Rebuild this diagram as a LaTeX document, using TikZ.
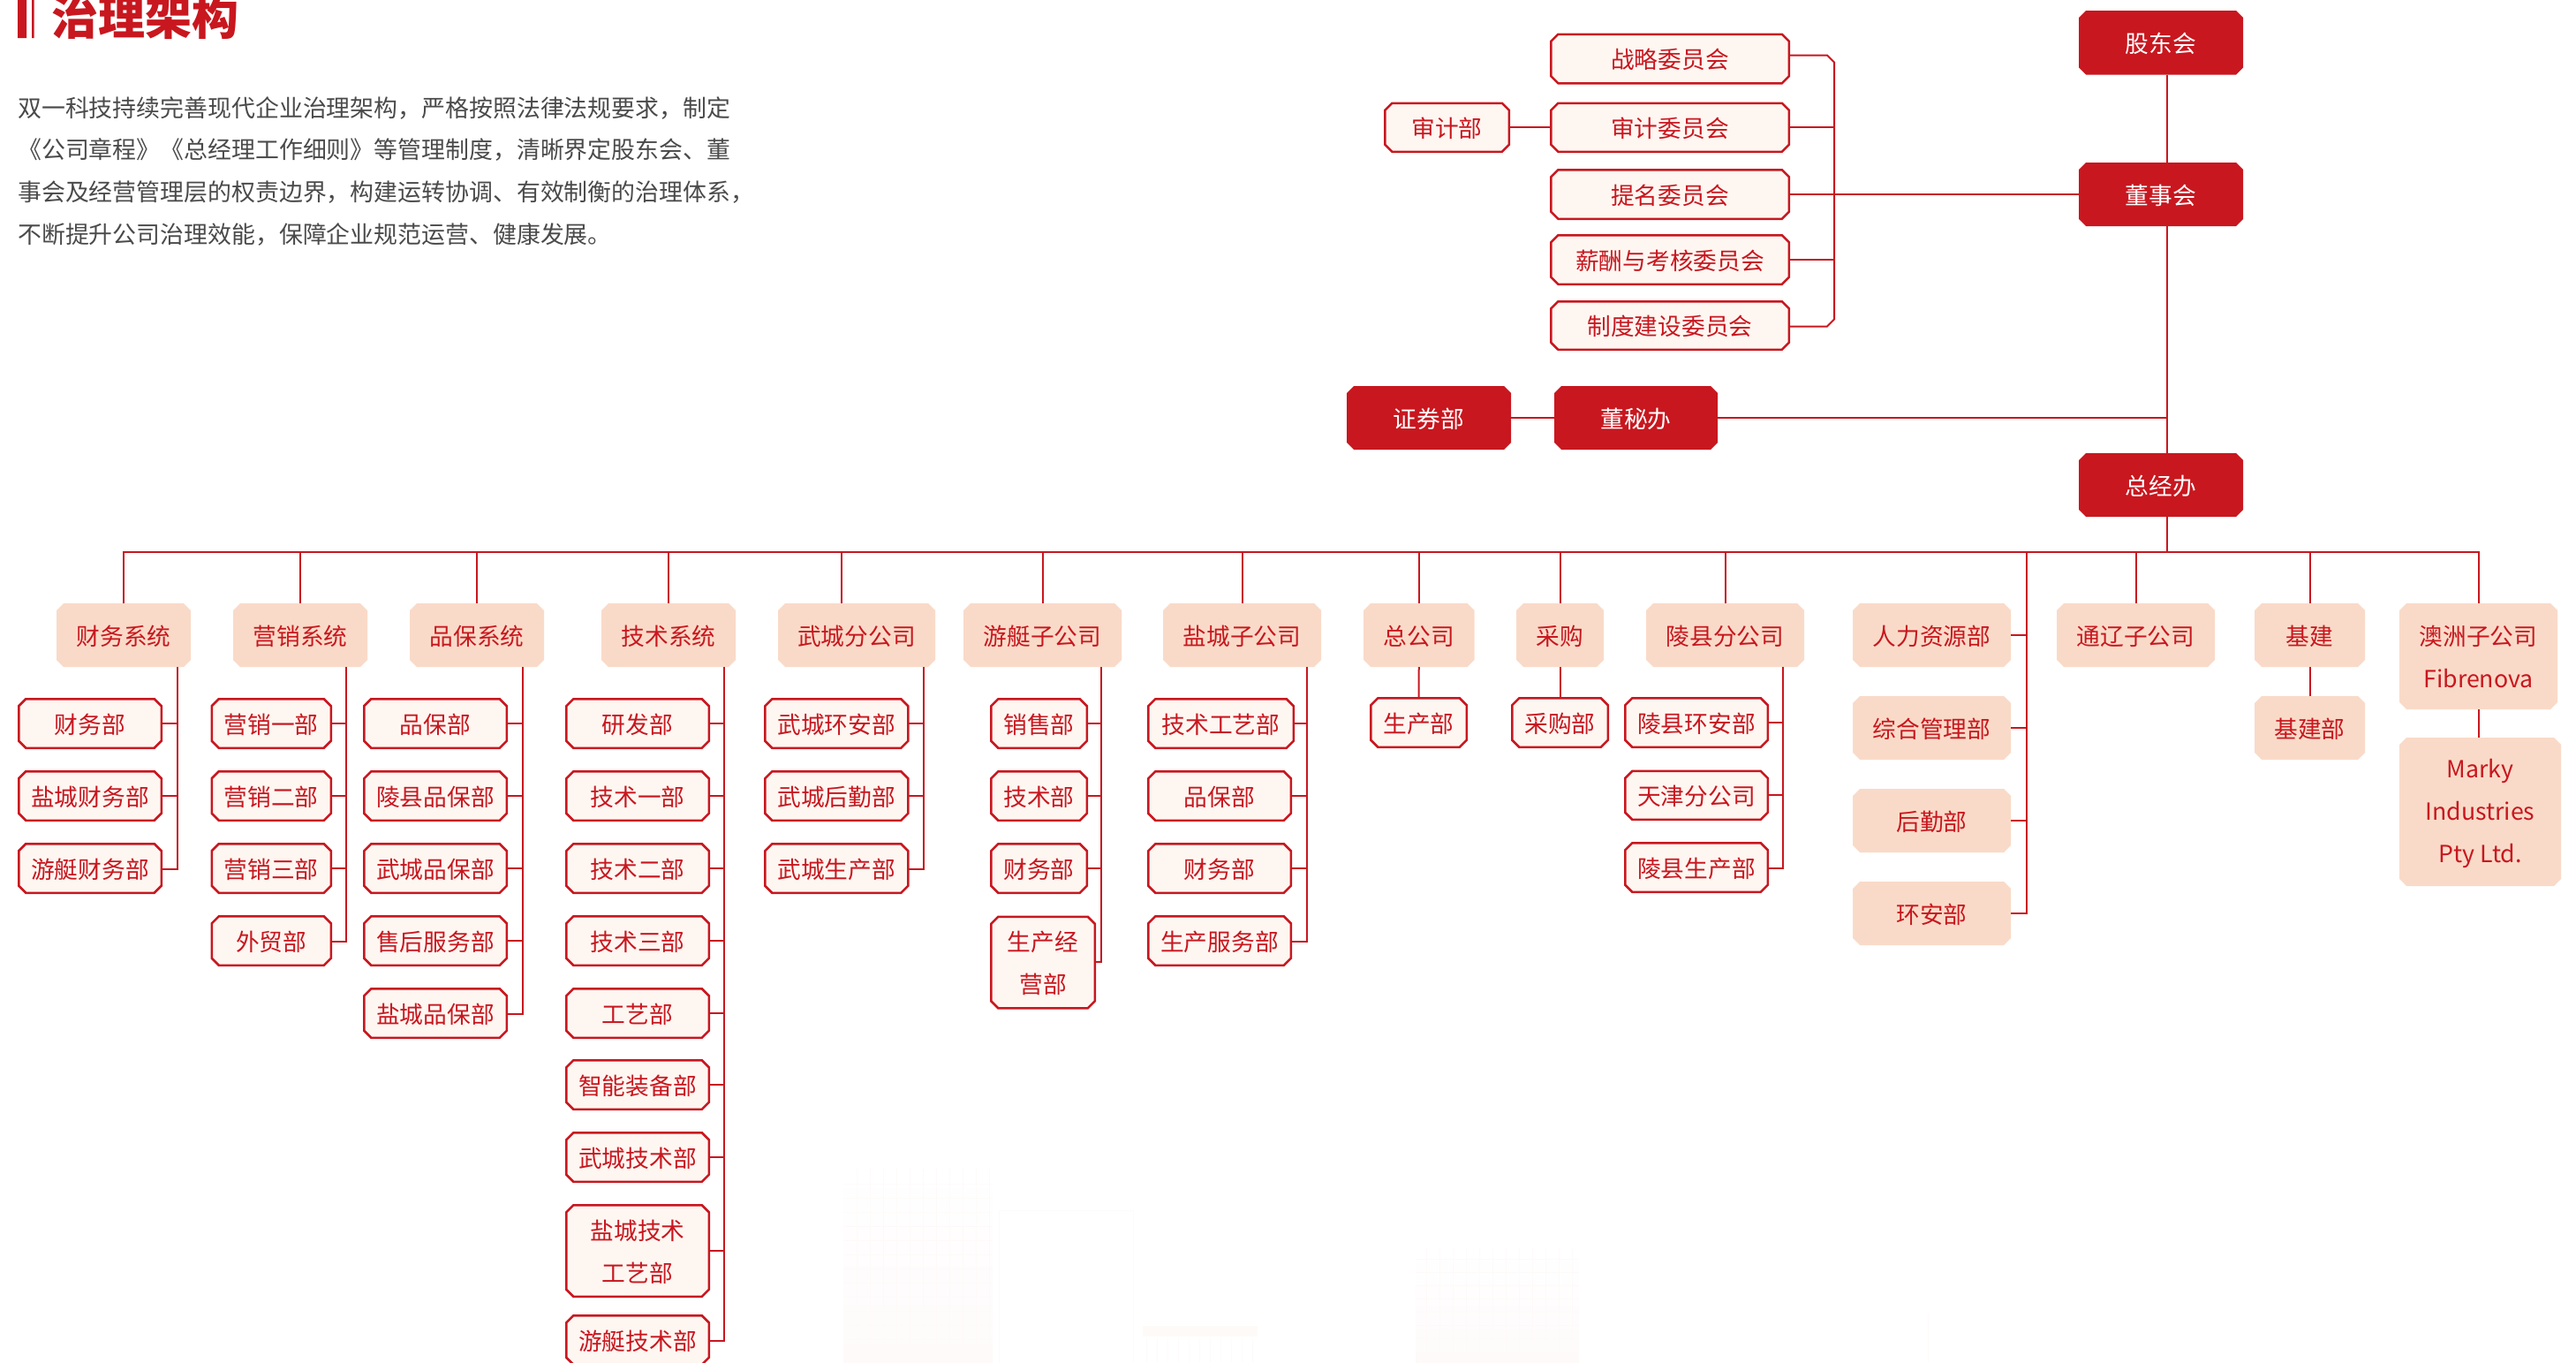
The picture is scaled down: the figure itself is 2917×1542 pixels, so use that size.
\documentclass[tikz,border=0pt]{standalone}
\usepackage{fontspec}
\setmainfont{Noto Sans CJK SC}
\usetikzlibrary{shapes.misc,calc}
\definecolor{brand}{HTML}{C8171F}
\definecolor{peach}{HTML}{F9DAC8}
\definecolor{pale}{HTML}{FEF6F1}
\definecolor{bodygrey}{HTML}{4A4A4A}
\definecolor{wm}{HTML}{FEFAFA}
\newcommand\st{\rule{0pt}{.98em}\rule[-.12em]{0pt}{.12em}}
\newcommand\mkbox[7]{%
  \pgfmathsetmacro\bcx{(#3+#5)/2}\pgfmathsetmacro\bcy{(#4+#6)/2}%
  \pgfmathsetmacro\bw{#5-#3}\pgfmathsetmacro\bh{#6-#4}%
  \node[#1,minimum width=\bw pt,minimum height=\bh pt] (#2) at (\bcx,\bcy) {\st #7};}
\newcommand\mkline[7]{%
  \pgfmathsetmacro\bcx{(#3+#5)/2}\pgfmathsetmacro\bcy{(#4+#6)/2}%
  \pgfmathsetmacro\bw{#5-#3-2.5}\pgfmathsetmacro\bh{#6-#4-2.5}%
  \node[#1,minimum width=\bw pt,minimum height=\bh pt] (#2) at (\bcx,\bcy) {\st #7};}
\tikzset{
  base/.style={chamfered rectangle,chamfered rectangle sep=4pt,inner sep=0pt,outer sep=0pt,align=center,
    font=\fontsize{26.7}{48}\selectfont},
  dark/.style={base,fill=brand,text=white},
  group/.style={base,fill=peach,text=brand},
  unit/.style={base,fill=pale,draw=brand,line width=2.5pt,text=brand},
  conn/.style={draw=brand,line width=2pt},
  wmline/.style={draw=wm,line width=.8pt}
}
\begin{document}
\begin{tikzpicture}[x=1pt,y=-1pt]
\useasboundingbox (0,0) rectangle (2917,1542);
% faint watermark of buildings
\shade[top color=white,bottom color=wm] (955,1323) rectangle (1124,1542);
\foreach \yy in {1340,1356,...,1540} \draw[wmline] (955,\yy) -- (1124,\yy);
\foreach \xx in {970,985,...,1120} \draw[wmline] (\xx,1323) -- (\xx,1542);
\draw[wmline] (1131,1542) -- (1131,1370) -- (1283,1370) -- (1283,1542);
\fill[wm!60!peach!30!white] (1294,1501) rectangle (1424,1513);
\foreach \xx in {1298,1310,...,1420} \draw[wmline] (\xx,1515) -- (\xx,1542);
\shade[top color=white,bottom color=wm] (1603,1413) rectangle (1788,1542);
\foreach \yy in {1425,1440,...,1540} \draw[wmline] (1603,\yy) -- (1788,\yy);
\foreach \xx in {1615,1630,...,1785} \draw[wmline] (\xx,1413) -- (\xx,1542);
\draw[wmline] (2183,1487) -- (2183,1542);
% title and text
\fill[brand] (20,-2) rectangle (30,43) (36,-2) rectangle (38.5,43);
\node[anchor=west,inner sep=0pt,text=brand,font=\fontsize{53}{60}\selectfont\bfseries] (title) at (58,19) {治理架构};
\node[anchor=north west,inner sep=0pt,align=left,text=bodygrey,font=\fontsize{26.9}{47.7}\selectfont] (intro) at (20,105.5)
{\st 双一科技持续完善现代企业治理架构，严格按照法律法规要求，制定\\
\st 《公司章程》《总经理工作细则》等管理制度，清晰界定股东会、董\\
\st 事会及经营管理层的权责边界，构建运转协调、有效制衡的治理体系，\\
\st 不断提升公司治理效能，保障企业规范运营、健康发展。};
% top
\mkbox{dark}{gd}{2354}{12}{2540}{84.5}{股东会}
\mkbox{dark}{dsh}{2354}{184}{2540}{256}{董事会}
\mkbox{dark}{zjb}{2354}{513}{2540}{585}{总经办}
\mkbox{dark}{dmb}{1760}{437}{1945}{509}{董秘办}
\mkbox{dark}{zqb}{1525}{437}{1711}{509}{证券部}
\mkline{unit}{zl}{1755}{37.5}{2027}{95.5}{战略委员会}
\mkline{unit}{sj}{1755}{115.5}{2027}{173}{审计委员会}
\mkline{unit}{tm}{1755}{191}{2027}{249}{提名委员会}
\mkline{unit}{xc}{1755}{265}{2027}{323}{薪酬与考核委员会}
\mkline{unit}{zd}{1755}{340}{2027}{397}{制度建设委员会}
\mkline{unit}{sjb}{1567}{115.5}{1710}{173}{审计部}
% system row
\mkbox{group}{a}{64}{683}{216}{755}{财务系统}
\mkbox{group}{b}{264}{683}{416}{755}{营销系统}
\mkbox{group}{c}{464}{683}{616}{755}{品保系统}
\mkbox{group}{d}{681}{683}{833}{755}{技术系统}
\mkbox{group}{e}{881}{683}{1059}{755}{武城分公司}
\mkbox{group}{f}{1091}{683}{1270}{755}{游艇子公司}
\mkbox{group}{g}{1317}{683}{1496}{755}{盐城子公司}
\mkbox{group}{h}{1544}{683}{1669.5}{755}{总公司}
\mkbox{group}{i}{1717}{683}{1816}{755}{采购}
\mkbox{group}{j}{1864}{683}{2043}{755}{陵县分公司}
\mkbox{group}{k1}{2098}{683}{2277}{755}{人力资源部}
\mkbox{group}{k2}{2098}{788}{2277}{860}{综合管理部}
\mkbox{group}{k3}{2098}{893}{2277}{965}{后勤部}
\mkbox{group}{k4}{2098}{998}{2277}{1070}{环安部}
\mkbox{group}{l}{2329}{683}{2508}{755}{通辽子公司}
\mkbox{group}{m}{2553}{683}{2678}{755}{基建}
\mkbox{group}{m1}{2553}{788}{2678}{860}{基建部}
\mkbox{group}{n}{2717}{683}{2896}{803}{澳洲子公司\\\st Fibrenova}
\mkbox{group}{n1}{2717}{835}{2900}{1003}{Marky\\\st Industries\\\st Pty Ltd.}
% children
\mkline{unit}{a1}{20}{790}{184}{848}{财务部}
\mkline{unit}{a2}{20}{872}{184}{930}{盐城财务部}
\mkline{unit}{a3}{20}{954}{184}{1012}{游艇财务部}
\mkline{unit}{b1}{238.5}{790}{376}{848}{营销一部}
\mkline{unit}{b2}{238.5}{872}{376}{930}{营销二部}
\mkline{unit}{b3}{238.5}{954}{376}{1012}{营销三部}
\mkline{unit}{b4}{238.5}{1036}{376}{1094}{外贸部}
\mkline{unit}{c1}{411}{790}{575}{848}{品保部}
\mkline{unit}{c2}{411}{872}{575}{930}{陵县品保部}
\mkline{unit}{c3}{411}{954}{575}{1012}{武城品保部}
\mkline{unit}{c4}{411}{1036}{575}{1094}{售后服务部}
\mkline{unit}{c5}{411}{1118}{575}{1176}{盐城品保部}
\mkline{unit}{d1}{640}{790}{804}{848}{研发部}
\mkline{unit}{d2}{640}{872}{804}{930}{技术一部}
\mkline{unit}{d3}{640}{954}{804}{1012}{技术二部}
\mkline{unit}{d4}{640}{1036}{804}{1094}{技术三部}
\mkline{unit}{d5}{640}{1118}{804}{1176}{工艺部}
\mkline{unit}{d6}{640}{1199}{804}{1257}{智能装备部}
\mkline{unit}{d7}{640}{1281}{804}{1339}{武城技术部}
\mkline{unit}{d8}{640}{1363}{804}{1469}{盐城技术\\\st 工艺部}
\mkline{unit}{d9}{640}{1488}{804}{1546}{游艇技术部}
\mkline{unit}{e1}{865}{790}{1029.5}{848}{武城环安部}
\mkline{unit}{e2}{865}{872}{1029.5}{930}{武城后勤部}
\mkline{unit}{e3}{865}{954}{1029.5}{1012}{武城生产部}
\mkline{unit}{f1}{1121}{790}{1232}{848}{销售部}
\mkline{unit}{f2}{1121}{872}{1232}{930}{技术部}
\mkline{unit}{f3}{1121}{954}{1232}{1012}{财务部}
\mkline{unit}{f4}{1121}{1036.5}{1241}{1142.5}{生产经\\\st 营部}
\mkline{unit}{g1}{1299}{790}{1466}{848}{技术工艺部}
\mkline{unit}{g2}{1299}{872}{1463}{930}{品保部}
\mkline{unit}{g3}{1299}{954}{1463}{1012}{财务部}
\mkline{unit}{g4}{1299}{1036}{1463}{1094}{生产服务部}
\mkline{unit}{h1}{1551}{789}{1662}{847}{生产部}
\mkline{unit}{i1}{1711}{789}{1822}{847}{采购部}
\mkline{unit}{j1}{1839}{789}{2003}{847}{陵县环安部}
\mkline{unit}{j2}{1839}{871.7}{2003}{929}{天津分公司}
\mkline{unit}{j3}{1839}{953}{2003}{1011}{陵县生产部}
% guide coordinates
\coordinate (trunk) at (2454,624.5);
\coordinate (cb) at (2077,221);
\coordinate (hrT) at (2295,624.5);
\coordinate (as) at (201,755);
\coordinate (bs) at (392,755);
\coordinate (cs) at (592,755);
\coordinate (ds) at (820,755);
\coordinate (es) at (1046,755);
\coordinate (eT) at (953,683);
\coordinate (fs) at (1247,755);
\coordinate (gs) at (1480,755);
\coordinate (js) at (2019,755);
% trunk and bus
\draw[conn] (gd.south -| trunk) -- (dsh.north -| trunk);
\draw[conn] (dsh.south -| trunk) -- (zjb.north -| trunk);
\draw[conn] (zjb.south -| trunk) -- (trunk);
\draw[conn] (dmb.east) -- (dmb.east -| trunk);
\draw[conn] (zqb.east) -- (dmb.west);
\draw[conn] (a.north) -- (a.north |- trunk) -- (n.north |- trunk) -- (n.north);
\foreach \q in {b,c,d,f,g,h,i,j,l,m} \draw[conn] (\q.north) -- (\q.north |- trunk);
\draw[conn] (e.north -| eT) -- (eT |- trunk);
\draw[conn] (h.south) -- (h1.north);
\draw[conn] (i.south) -- (i1.north);
\draw[conn] (m.south) -- (m1.north);
\draw[conn] (n.south) -- (n.south |- n1.north);
% committees
\draw[conn] ($(zl.east)+(0,-4)$) -- ($(zl.east -| cb)+(-8,-4)$) -- ($(zl.east -| cb)+(0,4)$) -- ($(zd.east -| cb)+(0,-7)$) -- ($(zd.east -| cb)+(-8,1)$) -- ($(zd.east)+(0,1)$);
\draw[conn,yshift=-1pt] (sj.east) -- (sj.east -| cb);
\draw[conn,yshift=-1pt] (xc.east) -- (xc.east -| cb);
\draw[conn,yshift=-1pt] (tm.east) -- (tm.east -| dsh.west);
\draw[conn,yshift=-1pt] (sjb.east) -- (sj.west);
% side rails
\foreach \kid/\rail in {a1/as,a2/as,b1/bs,b2/bs,b3/bs,c1/cs,c2/cs,c3/cs,c4/cs,d1/ds,d2/ds,d3/ds,d4/ds,d5/ds,d6/ds,d7/ds,d8/ds,e1/es,e2/es,f1/fs,f2/fs,f3/fs,g1/gs,g2/gs,g3/gs,j1/js,j2/js,k1/hrT,k2/hrT,k3/hrT}
  \draw[conn,yshift=-1pt] (\kid.east) -- (\kid.east -| \rail);
\draw[conn] (a.south -| as) |- ($(a3.east)+(0,1)$);
\draw[conn] (b.south -| bs) |- ($(b4.east)+(0,1)$);
\draw[conn] (c.south -| cs) |- ($(c5.east)+(0,1)$);
\draw[conn] (d.south -| ds) |- ($(d9.east)+(0,1)$);
\draw[conn] (e.south -| es) |- ($(e3.east)+(0,1)$);
\draw[conn] (f.south -| fs) |- ($(f4.east)+(0,-1)$);
\draw[conn] (g.south -| gs) |- ($(g4.east)+(0,1)$);
\draw[conn] (j.south -| js) |- ($(j3.east)+(0,1)$);
\draw[conn] (hrT) |- (k4.east);
\end{tikzpicture}
\end{document}
